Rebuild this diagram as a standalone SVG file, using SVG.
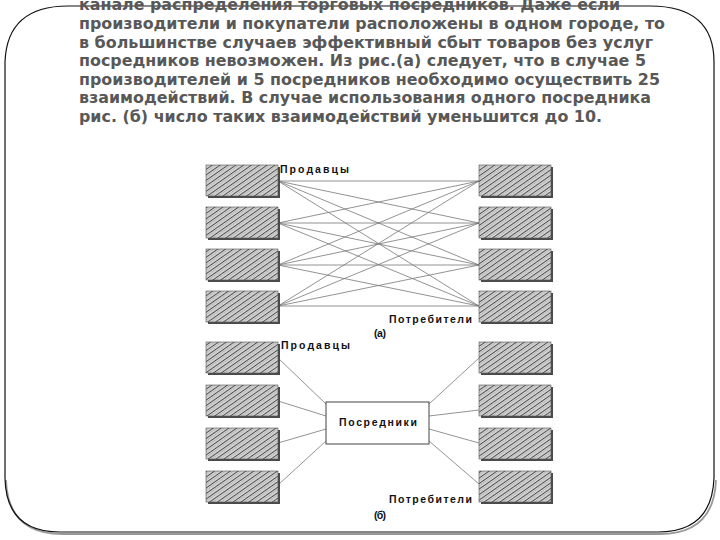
<svg xmlns="http://www.w3.org/2000/svg" width="720" height="540" viewBox="0 0 720 540">
<defs>
<pattern id="hatch" width="4.5" height="4.5" patternUnits="userSpaceOnUse" patternTransform="rotate(55)">
<rect width="4.5" height="4.5" fill="#cfcfcf"/>
<line x1="0" y1="0" x2="0" y2="4.5" stroke="#333" stroke-width="1.5"/>
<line x1="2.3" y1="0" x2="2.3" y2="4.5" stroke="#999" stroke-width="0.6" stroke-dasharray="1 1"/>
</pattern>
<style>
.body{font-family:"DejaVu Sans","Liberation Sans",sans-serif;font-weight:bold;font-size:16px;fill:#585858}
.lbl{font-family:"Liberation Sans",Arial,sans-serif;font-weight:bold;font-size:10.5px;fill:#111}
.box{fill:url(#hatch);stroke:#555;stroke-width:0.6}
.sh{fill:#4a4a4a}
.con line{stroke:#777;stroke-width:0.8}
</style>
</defs>
<rect width="720" height="540" fill="#fff"/>
<!-- frame -->
<path d="M6,480 Q8,534 62,534 L660,534 Q714,534 716,480" fill="none" stroke="#999" stroke-width="1.8"/>
<path d="M5,62 Q7,6 68,6 L650,6 Q714,6 714,62 L714,478 Q712,532 658,532 L60,532 Q6,532 5,478 Z" fill="none" stroke="#111" stroke-width="1.2"/>
<!-- text -->
<g id="text" class="body">
<text x="79" y="10" textLength="541" lengthAdjust="spacingAndGlyphs">канале распределения торговых посредников. Даже если</text>
<text x="79" y="29" textLength="586" lengthAdjust="spacingAndGlyphs">производители и покупатели расположены в одном городе, то</text>
<text x="79" y="47.5" textLength="574" lengthAdjust="spacingAndGlyphs">в большинстве случаев эффективный сбыт товаров без услуг</text>
<text x="79" y="66" textLength="567" lengthAdjust="spacingAndGlyphs">посредников невозможен. Из рис.(а) следует, что в случае 5</text>
<text x="79" y="84.5" textLength="581" lengthAdjust="spacingAndGlyphs">производителей и 5 посредников необходимо осуществить 25</text>
<text x="79" y="103" textLength="572" lengthAdjust="spacingAndGlyphs">взаимодействий. В случае использования одного посредника</text>
<text x="79" y="121.5" textLength="523" lengthAdjust="spacingAndGlyphs">рис. (б) число таких взаимодействий уменьшится до 10.</text>
</g>
<!-- connectors (a) -->
<g id="connectors-a" class="con">
<line x1="278" y1="181" x2="479" y2="181"/><line x1="278" y1="181" x2="479" y2="223"/><line x1="278" y1="181" x2="479" y2="265"/><line x1="278" y1="181" x2="479" y2="306"/>
<line x1="278" y1="223" x2="479" y2="181"/><line x1="278" y1="223" x2="479" y2="223"/><line x1="278" y1="223" x2="479" y2="265"/><line x1="278" y1="223" x2="479" y2="306"/>
<line x1="278" y1="265" x2="479" y2="181"/><line x1="278" y1="265" x2="479" y2="223"/><line x1="278" y1="265" x2="479" y2="265"/><line x1="278" y1="265" x2="479" y2="306"/>
<line x1="278" y1="306" x2="479" y2="181"/><line x1="278" y1="306" x2="479" y2="223"/><line x1="278" y1="306" x2="479" y2="265"/><line x1="278" y1="306" x2="479" y2="306"/>
</g>
<!-- connectors (б) -->
<g id="connectors-b" class="con">
<line x1="278" y1="358" x2="326" y2="404"/><line x1="278" y1="401" x2="326" y2="416"/><line x1="278" y1="443" x2="326" y2="429"/><line x1="278" y1="485" x2="326" y2="441"/>
<line x1="429" y1="404" x2="479" y2="358"/><line x1="429" y1="416" x2="479" y2="410"/><line x1="429" y1="429" x2="479" y2="443"/><line x1="429" y1="441" x2="479" y2="484"/>
</g>
<!-- sellers (a) -->
<g id="seller-a1"><rect class="sh" x="208" y="167" width="72" height="31"/><rect class="box" x="206" y="165" width="72" height="31"/></g>
<g id="seller-a2"><rect class="sh" x="208" y="209" width="72" height="31"/><rect class="box" x="206" y="207" width="72" height="31"/></g>
<g id="seller-a3"><rect class="sh" x="208" y="251" width="72" height="31"/><rect class="box" x="206" y="249" width="72" height="31"/></g>
<g id="seller-a4"><rect class="sh" x="208" y="293" width="72" height="31"/><rect class="box" x="206" y="291" width="72" height="31"/></g>
<!-- consumers (a) -->
<g id="consumer-a1"><rect class="sh" x="481" y="167" width="72" height="31"/><rect class="box" x="479" y="165" width="72" height="31"/></g>
<g id="consumer-a2"><rect class="sh" x="481" y="209" width="72" height="31"/><rect class="box" x="479" y="207" width="72" height="31"/></g>
<g id="consumer-a3"><rect class="sh" x="481" y="251" width="72" height="31"/><rect class="box" x="479" y="249" width="72" height="31"/></g>
<g id="consumer-a4"><rect class="sh" x="481" y="293" width="72" height="31"/><rect class="box" x="479" y="291" width="72" height="31"/></g>
<g id="labels-a" class="lbl">
<text x="280" y="173" textLength="69" lengthAdjust="spacing">Продавцы</text>
<text x="389" y="323" textLength="83" lengthAdjust="spacing">Потребители</text>
<text x="374" y="337" textLength="12" lengthAdjust="spacing">(а)</text>
</g>
<!-- sellers (б) -->
<g id="seller-b1"><rect class="sh" x="208" y="344" width="72" height="31"/><rect class="box" x="206" y="342" width="72" height="31"/></g>
<g id="seller-b2"><rect class="sh" x="208" y="387" width="72" height="31"/><rect class="box" x="206" y="385" width="72" height="31"/></g>
<g id="seller-b3"><rect class="sh" x="208" y="430" width="72" height="31"/><rect class="box" x="206" y="428" width="72" height="31"/></g>
<g id="seller-b4"><rect class="sh" x="208" y="473" width="72" height="31"/><rect class="box" x="206" y="471" width="72" height="31"/></g>
<!-- consumers (б) -->
<g id="consumer-b1"><rect class="sh" x="481" y="344" width="72" height="31"/><rect class="box" x="479" y="342" width="72" height="31"/></g>
<g id="consumer-b2"><rect class="sh" x="481" y="387" width="72" height="31"/><rect class="box" x="479" y="385" width="72" height="31"/></g>
<g id="consumer-b3"><rect class="sh" x="481" y="430" width="72" height="31"/><rect class="box" x="479" y="428" width="72" height="31"/></g>
<g id="consumer-b4"><rect class="sh" x="481" y="473" width="72" height="31"/><rect class="box" x="479" y="471" width="72" height="31"/></g>
<g id="intermediary"><rect x="326" y="402" width="103" height="42" fill="#fff" stroke="#444" stroke-width="1"/>
<text class="lbl" x="339" y="426" textLength="78" lengthAdjust="spacing">Посредники</text></g>
<g id="labels-b" class="lbl">
<text x="281" y="349" textLength="69" lengthAdjust="spacing">Продавцы</text>
<text x="389" y="503" textLength="83" lengthAdjust="spacing">Потребители</text>
<text x="374" y="519" textLength="12" lengthAdjust="spacing">(б)</text>
</g>
</svg>
